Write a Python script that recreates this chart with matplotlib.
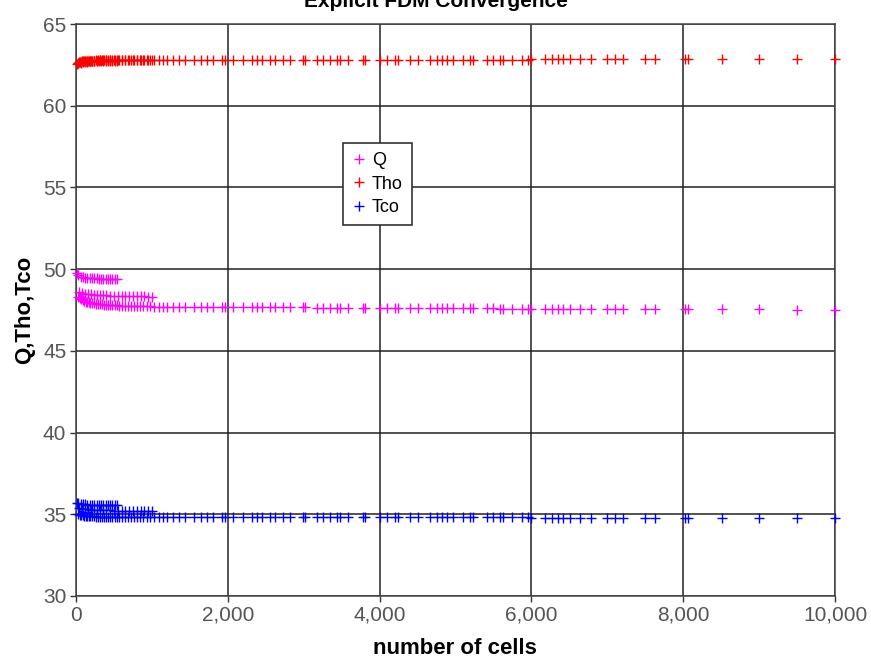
import matplotlib
matplotlib.use("Agg")
import matplotlib.pyplot as plt
from matplotlib.ticker import StrMethodFormatter
import numpy as np

plt.rcParams['font.family'] = ['Liberation Sans', 'DejaVu Sans']

# number of cells for the main sweep
cells = [30, 50, 70, 90, 110, 130, 150, 170, 190, 210,
         240, 260, 290, 310, 340, 370, 400, 420, 450, 480,
         510, 540, 570, 600, 640, 680, 720, 760, 800, 840,
         880, 930, 980, 1030, 1090, 1150,
         1200, 1280, 1360, 1440, 1560, 1650, 1728, 1800, 1920, 1960,
         2070, 2200, 2320, 2380, 2450, 2560, 2620, 2730, 2820, 2990,
         3020, 3180, 3250, 3350, 3440, 3480, 3580, 3780, 3810, 4000,
         4100, 4200, 4240, 4400, 4500, 4660, 4760, 4820, 4890, 4970,
         5100, 5190, 5230, 5420, 5490, 5590, 5630, 5740, 5880, 5950,
         6000, 6180, 6270, 6350, 6420, 6510, 6640, 6790, 7000, 7100,
         7200, 7500, 7630, 8020, 8060, 8510, 9000, 9500, 10000]

q_main = [48.30, 48.22, 48.15, 48.10, 48.06, 48.02, 47.99, 47.96, 47.94, 47.92,
          47.90, 47.88, 47.87, 47.85, 47.84, 47.83, 47.82, 47.81, 47.80, 47.79,
          47.78, 47.78, 47.77, 47.76, 47.76, 47.75, 47.75, 47.74, 47.74, 47.73,
          47.73, 47.72, 47.72, 47.71, 47.71, 47.70,
          47.70, 47.70, 47.70, 47.70, 47.69, 47.69, 47.69, 47.69, 47.68, 47.68,
          47.68, 47.68, 47.67, 47.67, 47.67, 47.67, 47.66, 47.66, 47.66, 47.66,
          47.66, 47.65, 47.65, 47.65, 47.65, 47.64, 47.64, 47.64, 47.64, 47.63,
          47.63, 47.63, 47.62, 47.62, 47.62, 47.62, 47.61, 47.61, 47.61, 47.61,
          47.60, 47.60, 47.60, 47.60, 47.60, 47.59, 47.59, 47.59, 47.59, 47.59,
          47.58, 47.58, 47.58, 47.58, 47.58, 47.58, 47.58, 47.58, 47.58, 47.58,
          47.58, 47.58, 47.57, 47.56, 47.56, 47.55, 47.54, 47.53, 47.52]

tho_main = [62.62, 62.66, 62.69, 62.71, 62.72, 62.73, 62.74, 62.75, 62.75, 62.76,
            62.76, 62.77, 62.77, 62.77, 62.78, 62.78, 62.78, 62.78, 62.79, 62.79,
            62.79, 62.79, 62.79, 62.79, 62.80, 62.80, 62.80, 62.80, 62.80, 62.80,
            62.80, 62.80, 62.81, 62.81, 62.81, 62.81,
            62.81, 62.81, 62.81, 62.81, 62.81, 62.81, 62.81, 62.81, 62.81, 62.81,
            62.81, 62.81, 62.81, 62.81, 62.81, 62.81, 62.81, 62.81, 62.81, 62.81,
            62.82, 62.82, 62.82, 62.82, 62.82, 62.82, 62.82, 62.82, 62.82, 62.82,
            62.82, 62.82, 62.82, 62.82, 62.82, 62.82, 62.82, 62.82, 62.82, 62.82,
            62.82, 62.82, 62.82, 62.82, 62.82, 62.82, 62.82, 62.82, 62.82, 62.82,
            62.83, 62.83, 62.83, 62.83, 62.83, 62.83, 62.83, 62.83, 62.83, 62.83,
            62.83, 62.83, 62.83, 62.83, 62.83, 62.83, 62.83, 62.83, 62.83]

tco_main = [35.02, 34.98, 34.95, 34.93, 34.91, 34.90, 34.89, 34.88, 34.88, 34.87,
            34.87, 34.86, 34.86, 34.86, 34.85, 34.85, 34.85, 34.85, 34.84, 34.84,
            34.84, 34.84, 34.84, 34.84, 34.84, 34.84, 34.83, 34.83, 34.83, 34.83,
            34.83, 34.83, 34.83, 34.83, 34.83, 34.83,
            34.83, 34.83, 34.83, 34.83, 34.83, 34.83, 34.83, 34.83, 34.83, 34.83,
            34.82, 34.82, 34.82, 34.82, 34.82, 34.82, 34.82, 34.82, 34.82, 34.82,
            34.82, 34.82, 34.82, 34.82, 34.82, 34.82, 34.82, 34.82, 34.82, 34.82,
            34.81, 34.81, 34.81, 34.81, 34.81, 34.81, 34.81, 34.81, 34.81, 34.81,
            34.81, 34.81, 34.81, 34.81, 34.81, 34.81, 34.81, 34.81, 34.81, 34.81,
            34.80, 34.80, 34.80, 34.80, 34.80, 34.80, 34.80, 34.80, 34.80, 34.80,
            34.80, 34.80, 34.80, 34.80, 34.80, 34.80, 34.80, 34.80, 34.80]

# coarse runs (fewer rows), small cell counts only
cells_a = [10, 30, 60, 90, 120, 150, 180, 210, 240, 270,
           300, 330, 360, 390, 420, 450, 480, 510, 540]
q_a = [49.75, 49.62, 49.55, 49.50, 49.48, 49.46, 49.45, 49.44, 49.43, 49.43,
       49.42, 49.42, 49.41, 49.41, 49.41, 49.40, 49.40, 49.40, 49.40]
tho_a = [62.55, 62.60, 62.64, 62.67, 62.69, 62.70, 62.71, 62.72, 62.73, 62.73,
         62.74, 62.74, 62.75, 62.75, 62.75, 62.76, 62.76, 62.76, 62.76]
tco_a = [35.70, 35.66, 35.63, 35.61, 35.60, 35.59, 35.58, 35.58, 35.57, 35.57,
         35.56, 35.56, 35.56, 35.55, 35.55, 35.55, 35.55, 35.54, 35.54]

cells_b = [40, 80, 120, 160, 200, 240, 280, 320, 360, 400, 450,
           500, 550, 600, 650, 700, 750, 800, 850, 900, 950, 1000]
q_b = [48.62, 48.55, 48.50, 48.47, 48.45, 48.43, 48.42, 48.41, 48.40, 48.39, 48.38,
       48.37, 48.36, 48.36, 48.35, 48.35, 48.34, 48.34, 48.33, 48.33, 48.32, 48.32]
tho_b = [62.68, 62.71, 62.73, 62.74, 62.75, 62.76, 62.76, 62.77, 62.77, 62.77, 62.78,
         62.78, 62.78, 62.78, 62.79, 62.79, 62.79, 62.79, 62.79, 62.80, 62.80, 62.80]
tco_b = [35.40, 35.35, 35.32, 35.30, 35.28, 35.27, 35.26, 35.25, 35.25, 35.24, 35.24,
         35.23, 35.23, 35.22, 35.22, 35.22, 35.21, 35.21, 35.21, 35.20, 35.20, 35.20]

x_all = cells + cells_a + cells_b
series = [
    ('Q', q_main + q_a + q_b, '#ff00ff'),
    ('Tho', tho_main + tho_a + tho_b, '#ff0000'),
    ('Tco', tco_main + tco_a + tco_b, '#0000ff'),
]

fig = plt.figure(figsize=(8.71, 6.6), dpi=100)
ax = fig.add_axes([0.0873, 0.097, 0.8714, 0.8666])

for name, vals, col in series:
    ax.plot(x_all, vals, linestyle='none', marker='+', markersize=7.5,
            markeredgewidth=1.0, color=col, label=name, clip_on=False, zorder=3)

ax.set_xlim(0, 10000)
ax.set_ylim(30, 65)
ax.set_xticks(np.arange(0, 10001, 2000))
ax.set_yticks(np.arange(30, 66, 5))
ax.xaxis.set_major_formatter(StrMethodFormatter('{x:,.0f}'))

ax.grid(True, color='#222222', linewidth=1.1)
ax.set_axisbelow(True)
for sp in ax.spines.values():
    sp.set_color('#444444')
    sp.set_linewidth(1.1)
ax.tick_params(direction='out', length=4, width=1.0, color='#333333',
               labelsize=15, labelcolor='#555555', pad=3)

ax.set_xlabel('number of cells', fontsize=16, fontweight='bold')
ax.xaxis.set_label_coords(0.499, -0.0735)
ax.set_ylabel('Q,Tho,Tco', fontsize=16, fontweight='bold')
ax.yaxis.set_label_coords(-0.054, 0.5)

fig.text(0.5006, 0.9894, 'Explicit FDM Convergence', fontsize=15,
         fontweight='bold', ha='center', va='baseline')

leg = ax.legend(loc='upper left', bbox_to_anchor=(0.352, 0.792), fontsize=13,
                frameon=True, fancybox=False, framealpha=1, edgecolor='#333333',
                handlelength=0.8, handletextpad=0.3, borderpad=0.5,
                labelspacing=0.36, borderaxespad=0)
leg.get_frame().set_linewidth(1.2)

fig.savefig('out.png', dpi=100)
